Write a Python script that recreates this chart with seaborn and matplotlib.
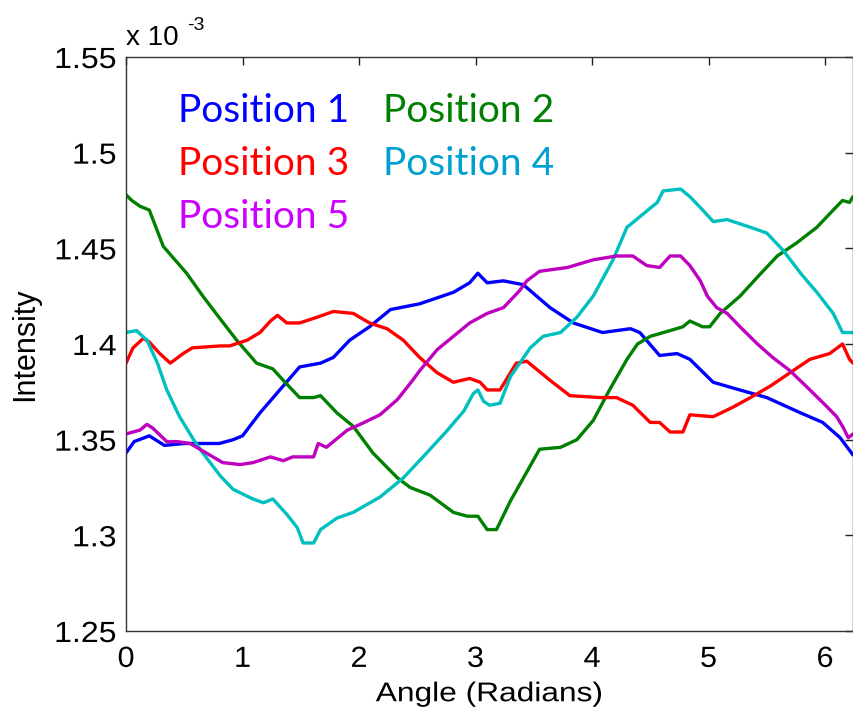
import numpy as np
import pandas as pd
import matplotlib
matplotlib.use("Agg")
import matplotlib.pyplot as plt
import seaborn as sns
from matplotlib.ticker import FormatStrFormatter, FixedLocator
from matplotlib.patheffects import AbstractPathEffect
from matplotlib.transforms import Affine2D

sns.set_theme(style="white")
plt.rcParams['font.family'] = ['Liberation Sans', 'DejaVu Sans']

# Intensity values in units of 1e-3
x1 = [0, 0.07, 0.2, 0.33, 0.5, 0.8, 0.92, 1.0, 1.15, 1.32, 1.49, 1.67, 1.78, 1.92, 2.09, 2.27, 2.52, 2.81, 2.95, 3.02,
      3.10, 3.24, 3.41, 3.64, 3.84, 4.09, 4.33, 4.41, 4.58, 4.73, 4.84, 5.04, 5.21, 5.50, 5.79, 5.98, 6.13, 6.24]
y1 = [1.343, 1.349, 1.352, 1.347, 1.348, 1.348, 1.350, 1.352, 1.364, 1.376, 1.388, 1.390, 1.393, 1.402, 1.409, 1.418,
      1.421, 1.427, 1.432, 1.437, 1.432, 1.433, 1.431, 1.419, 1.411, 1.406, 1.408, 1.406, 1.394, 1.395, 1.392, 1.380,
      1.377, 1.372, 1.364, 1.359, 1.351, 1.342]

x2 = [0, 0.05, 0.12, 0.2, 0.32, 0.52, 0.66, 0.81, 0.95, 1.12, 1.26, 1.35, 1.49, 1.61, 1.67, 1.81, 1.95, 2.12, 2.33,
      2.44, 2.61, 2.81, 2.93, 3.02, 3.10, 3.18, 3.30, 3.55, 3.73, 3.87, 4.01, 4.15, 4.30, 4.39, 4.50, 4.67, 4.78, 4.84,
      4.95, 5.01, 5.10, 5.27, 5.42, 5.59, 5.76, 5.93, 6.07, 6.15, 6.21, 6.24]
y2 = [1.478, 1.475, 1.472, 1.470, 1.451, 1.437, 1.425, 1.413, 1.402, 1.390, 1.387, 1.381, 1.372, 1.372, 1.373, 1.364,
      1.357, 1.343, 1.330, 1.325, 1.321, 1.312, 1.310, 1.310, 1.303, 1.303, 1.318, 1.345, 1.346, 1.350, 1.360, 1.376,
      1.392, 1.400, 1.404, 1.407, 1.409, 1.412, 1.409, 1.409, 1.416, 1.425, 1.435, 1.446, 1.453, 1.461, 1.470, 1.475,
      1.474, 1.477]

x3 = [0, 0.06, 0.15, 0.2, 0.29, 0.38, 0.49, 0.57, 0.81, 0.89, 1.04, 1.15, 1.24, 1.30, 1.38, 1.49, 1.64, 1.78, 1.95,
      2.09, 2.24, 2.38, 2.52, 2.67, 2.81, 2.95, 3.04, 3.10, 3.21, 3.35, 3.44, 3.64, 3.81, 4.07, 4.21, 4.35, 4.50, 4.58,
      4.67, 4.78, 4.84, 5.04, 5.21, 5.36, 5.53, 5.70, 5.87, 6.04, 6.15, 6.21, 6.24]
y3 = [1.390, 1.398, 1.403, 1.401, 1.395, 1.390, 1.395, 1.398, 1.399, 1.399, 1.402, 1.406, 1.412, 1.415, 1.411, 1.411,
      1.414, 1.417, 1.416, 1.411, 1.408, 1.402, 1.393, 1.385, 1.380, 1.382, 1.380, 1.376, 1.376, 1.390, 1.391, 1.381,
      1.373, 1.372, 1.372, 1.368, 1.359, 1.359, 1.354, 1.354, 1.363, 1.362, 1.367, 1.372, 1.378, 1.385, 1.392, 1.395,
      1.400, 1.392, 1.390]

x4 = [0, 0.09, 0.18, 0.27, 0.35, 0.46, 0.58, 0.66, 0.81, 0.92, 1.09, 1.18, 1.26, 1.38, 1.47, 1.52, 1.61, 1.67, 1.81,
      1.95, 2.18, 2.38, 2.58, 2.76, 2.90, 2.98, 3.02, 3.07, 3.12, 3.21, 3.30, 3.38, 3.47, 3.58, 3.73, 3.87, 4.01, 4.18,
      4.30, 4.44, 4.56, 4.61, 4.76, 4.84, 4.95, 5.04, 5.16, 5.36, 5.50, 5.64, 5.79, 5.93, 6.07, 6.15, 6.21, 6.24]
y4 = [1.406, 1.407, 1.402, 1.390, 1.376, 1.362, 1.350, 1.343, 1.331, 1.324, 1.319, 1.317, 1.319, 1.311, 1.304, 1.296,
      1.296, 1.303, 1.309, 1.312, 1.320, 1.330, 1.343, 1.355, 1.365, 1.374, 1.376, 1.370, 1.368, 1.369, 1.383, 1.390,
      1.398, 1.404, 1.406, 1.414, 1.425, 1.444, 1.461, 1.468, 1.474, 1.480, 1.481, 1.477, 1.470, 1.464, 1.465, 1.461,
      1.458, 1.449, 1.437, 1.427, 1.416, 1.406, 1.406, 1.406]

x5 = [0, 0.12, 0.18, 0.23, 0.35, 0.44, 0.55, 0.69, 0.83, 0.98, 1.09, 1.24, 1.35, 1.43, 1.61, 1.65, 1.72, 1.90, 2.01,
      2.18, 2.33, 2.46, 2.52, 2.67, 2.81, 2.95, 3.10, 3.24, 3.38, 3.44, 3.55, 3.79, 4.01, 4.21, 4.35, 4.47, 4.58, 4.67,
      4.76, 4.84, 4.93, 4.99, 5.07, 5.16, 5.27, 5.42, 5.55, 5.70, 5.87, 6.02, 6.10, 6.15, 6.20, 6.24]
y5 = [1.353, 1.355, 1.358, 1.356, 1.349, 1.349, 1.348, 1.343, 1.338, 1.337, 1.338, 1.341, 1.339, 1.341, 1.341, 1.348,
      1.346, 1.355, 1.358, 1.363, 1.371, 1.381, 1.386, 1.397, 1.404, 1.411, 1.416, 1.419, 1.428, 1.433, 1.438, 1.440,
      1.444, 1.446, 1.446, 1.441, 1.440, 1.446, 1.446, 1.441, 1.433, 1.425, 1.419, 1.416, 1.409, 1.400, 1.393, 1.386,
      1.376, 1.367, 1.362, 1.357, 1.351, 1.353]

series_names = ["Position 1", "Position 2", "Position 3", "Position 4", "Position 5"]
line_colors = ["#0000FF", "#008000", "#FF0000", "#00BFBF", "#BF00BF"]
text_colors = ["#0000FF", "#008000", "#FF0000", "#00A0D0", "#CC00FF"]
xs = [x1, x2, x3, x4, x5]
ys = [y1, y2, y3, y4, y5]

xticks = [0, 1, 2, 3, 4, 5, 6]
yticks = [1.25, 1.3, 1.35, 1.4, 1.45, 1.5, 1.55]


class Stretch(AbstractPathEffect):
    """Stretch text glyphs horizontally (along the text direction)."""
    def __init__(self, sx, anchor='center'):
        super().__init__()
        self.sx = sx
        self.anchor = anchor

    def draw_path(self, renderer, gc, tpath, affine, rgbFace=None):
        ext = tpath.get_extents()
        if self.anchor == 'left':
            a = ext.x0
        elif self.anchor == 'right':
            a = ext.x1
        else:
            a = 0.5 * (ext.x0 + ext.x1)
        t = Affine2D().translate(-a, 0).scale(self.sx, 1).translate(a, 0) + affine
        renderer.draw_path(gc, tpath, t, rgbFace)


fig = plt.figure(figsize=(8.54, 7.13), dpi=100)
ax = fig.add_axes([126 / 854, 82 / 713, 727 / 854, 574 / 713])

for name, xx, yy, c in zip(series_names, xs, ys, line_colors):
    df = pd.DataFrame({"Angle": xx, "Intensity": yy})
    sns.lineplot(data=df, x="Angle", y="Intensity", color=c, linewidth=2.4,
                 sort=False, estimator=None, ax=ax)

ax.set_xlim(0, 6.24)
ax.set_ylim(1.25, 1.55)
ax.xaxis.set_major_locator(FixedLocator(xticks))
ax.yaxis.set_major_locator(FixedLocator(yticks))
ax.yaxis.set_major_formatter(FormatStrFormatter('%g'))
ax.tick_params(direction='in', length=6, width=1, top=True, right=True,
               labelsize=21, colors='#222222')
ax.tick_params(axis='x', labelcolor='black', pad=10)
ax.tick_params(axis='y', labelcolor='black', pad=7)
for s in ax.spines.values():
    s.set_visible(True)
    s.set_color('#333333')
    s.set_linewidth(1.0)
ax.set_facecolor('white')

xl = ax.set_xlabel("Angle (Radians)", fontsize=19.5, labelpad=6, color='black')
yl = ax.set_ylabel("Intensity", fontsize=22, labelpad=14, color='black')
xl.set_path_effects([Stretch(1.17, 'center')])

for lbl in ax.get_xticklabels():
    lbl.set_path_effects([Stretch(1.05, 'center')])
for lbl in ax.get_yticklabels():
    lbl.set_path_effects([Stretch(1.1, 'right')])

# legend-like colored texts
text_pos = [(0.0715, 0.887), (0.3535, 0.887), (0.0715, 0.794), (0.3535, 0.794), (0.0715, 0.702)]
for name, (tx, ty), c in zip(series_names, text_pos, text_colors):
    ax.text(tx, ty, name, transform=ax.transAxes, color=c, fontsize=28,
            family=['Lato', 'DejaVu Sans'], va='baseline', ha='left')

# exponent label
fig.text(126 / 854, 1 - 45 / 713, "x 10", fontsize=20, va='baseline', ha='left', color='black')
fig.text(187 / 854, 1 - 30 / 713, "-3", fontsize=14, va='baseline', ha='left', color='black')

fig.savefig("out.png", dpi=100, facecolor='white')
